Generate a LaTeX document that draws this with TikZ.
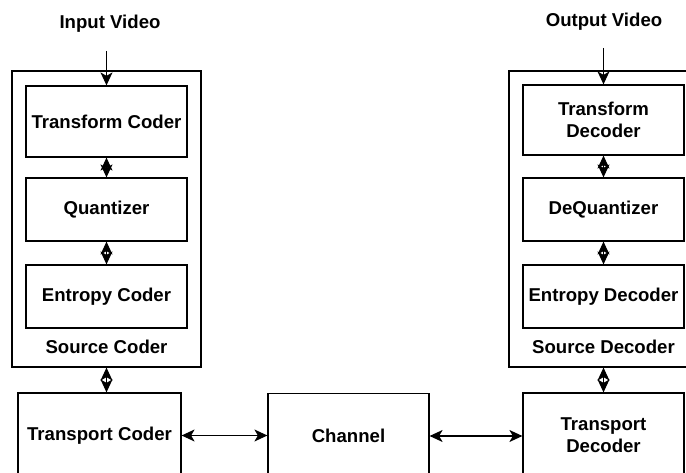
\documentclass[tikz,border=0pt]{standalone}
\usepackage{fontspec}
\setmainfont{Liberation Sans}
\usetikzlibrary{arrows.meta}
\begin{document}
\begin{tikzpicture}[x=1pt,y=-1pt,
  txt/.style={font=\bfseries\fontsize{18.6}{22.3}\selectfont},
  box/.style={draw, line width=1.2pt, inner sep=0pt, align=center, txt},
  frame/.style={draw, line width=1.2pt, inner sep=0pt},
  lbl/.style={inner sep=0pt, align=center, txt},
  link/.style={line width=1.2pt, {Stealth[length=13pt,width=12pt,inset=3.5pt]}-{Stealth[length=13pt,width=12pt,inset=3.5pt]}},
  feed/.style={line width=1.2pt, -{Stealth[length=13pt,width=12pt,inset=3.5pt]}}]
\useasboundingbox (0,0) rectangle (686,473);
\clip (0,0) rectangle (686,473);

% encoder side
\node[frame, minimum width=189, minimum height=296] (srcc) at (106.5,219) {};
\node[box, minimum width=161, minimum height=71] (tc) at (106.5,121.5) {Transform Coder};
\node[box, minimum width=161, minimum height=63] (q)  at (106.5,209.5) {Quantizer};
\node[box, minimum width=161, minimum height=63] (ec) at (106.5,296.5) {Entropy Coder};
\node[lbl] (srccl) at (106.5,347) {Source Coder};
\node[lbl] (inl) at (110,24) {Input Video};
\coordinate (inTop) at (106.5,51);

% decoder side
\node[frame, minimum width=189, minimum height=296] (srcd) at (603.5,219) {};
\node[box, minimum width=161, minimum height=70] (td) at (603.5,120) {Transform\\Decoder};
\node[box, minimum width=161, minimum height=63] (dq) at (603.5,209.5) {DeQuantizer};
\node[box, minimum width=161, minimum height=63] (ed) at (603.5,296.5) {Entropy Decoder};
\node[lbl] (srcdl) at (603.5,347) {Source Decoder};
\node[lbl] (outl) at (604,22) {Output Video};
\coordinate (outTop) at (603.5,48);

% transport layer
\node[box, minimum width=163, minimum height=85] (trc) at (99.5,435.5) {Transport Coder};
\node[box, minimum width=161, minimum height=85] (ch)  at (348.5,436) {Channel};
\node[box, minimum width=161, minimum height=85] (trd) at (603.5,435.5) {Transport\\Decoder};

% connectors
\draw[feed] (inTop) -- (tc.north);
\draw[feed] (outTop) -- (td.north);
\draw[link] (tc.south) -- (q.north);
\draw[link] (q.south) -- (ec.north);
\draw[link] (td.south) -- (dq.north);
\draw[link] (dq.south) -- (ed.north);
\draw[link] (srcc.south) -- (srcc.south |- trc.north);
\draw[link] (srcd.south) -- (trd.north);
\draw[link] (trc.east) -- (trc.east -| ch.west);
\draw[link] (ch.east) -- (ch.east -| trd.west);
\end{tikzpicture}
\end{document}
